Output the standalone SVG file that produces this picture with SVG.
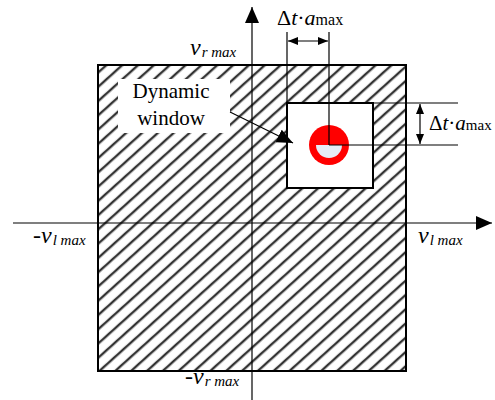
<svg xmlns="http://www.w3.org/2000/svg" width="495" height="400" viewBox="0 0 495 400">
<defs>
<pattern id="hatch" width="10.6" height="10.6" patternUnits="userSpaceOnUse" patternTransform="rotate(48)">
<rect width="10.6" height="10.6" fill="#fff"/>
<line x1="3" y1="0" x2="3" y2="10.6" stroke="#333" stroke-width="2.4"/>
</pattern>
<marker id="ah" viewBox="0 0 10 10" refX="10" refY="5" markerWidth="10" markerHeight="10" markerUnits="userSpaceOnUse" orient="auto-start-reverse">
<path d="M0,1 L10,5 L0,9 Z" fill="#000"/>
</marker>
<marker id="big" viewBox="0 0 16 14" refX="16" refY="7" markerWidth="16" markerHeight="14" markerUnits="userSpaceOnUse" orient="auto">
<path d="M0,0 L16,7 L0,14 Z" fill="#000"/>
</marker>
</defs>
<style>
text{font-family:"Times New Roman",Tinos,"Liberation Serif","Noto Serif","DejaVu Serif",FreeSerif,serif;fill:#000}
.i{font-style:italic}
.ln{stroke:#000;stroke-width:1.2;fill:none}
</style>
<g id="region">
<rect x="98" y="65" width="308" height="306" fill="url(#hatch)" stroke="#000" stroke-width="2"/>
</g>
<g id="label-box">
<rect x="118" y="79" width="112" height="54" fill="#fff"/>
<text x="171" y="98" font-size="21" text-anchor="middle">Dynamic</text>
<text x="171" y="125" font-size="21" text-anchor="middle">window</text>
</g>
<g id="window">
<rect x="287" y="103" width="86" height="85" fill="#fff" stroke="#000" stroke-width="2"/>
<circle cx="329" cy="145" r="20" fill="#f00"/>
<path d="M316,145 A13,13 0 0 0 342,145 Z" fill="#e6ecf6"/>
</g>
<g id="connectors">
<line class="ln" x1="252" y1="400" x2="252" y2="7" stroke-width="1.5" marker-end="url(#big)"/>
<line class="ln" x1="13" y1="223" x2="492" y2="223" stroke-width="1.5" marker-end="url(#big)"/>
<line class="ln" x1="287" y1="32" x2="287" y2="103"/>
<line class="ln" x1="329" y1="32" x2="329" y2="145"/>
<line class="ln" x1="288" y1="41" x2="328" y2="41" marker-start="url(#ah)" marker-end="url(#ah)"/>
<line class="ln" x1="373" y1="103" x2="458" y2="103"/>
<line class="ln" x1="329" y1="145" x2="458" y2="145"/>
<line class="ln" x1="420" y1="104" x2="420" y2="144" marker-start="url(#ah)" marker-end="url(#ah)"/>
<line class="ln" x1="230" y1="112" x2="293" y2="143" stroke-width="1.5" marker-end="url(#big)"/>
</g>
<g id="labels">
<text x="277" y="25" font-size="22">Δ<tspan class="i">t</tspan>·<tspan class="i">a</tspan><tspan font-size="16">max</tspan></text>
<text x="429" y="130" font-size="21">Δ<tspan class="i">t</tspan>·<tspan class="i">a</tspan><tspan font-size="15">max</tspan></text>
<text class="i" x="190" y="55" font-size="24">v<tspan font-size="15" dx="1" dy="2">r max</tspan></text>
<text class="i" x="33" y="243" font-size="24">-v<tspan font-size="15" dx="1" dy="2">l max</tspan></text>
<text class="i" x="418" y="243" font-size="24">v<tspan font-size="15" dx="1" dy="2">l max</tspan></text>
<text class="i" x="185" y="384" font-size="24">-v<tspan font-size="15" dx="1" dy="2">r max</tspan></text>
</g>
</svg>
